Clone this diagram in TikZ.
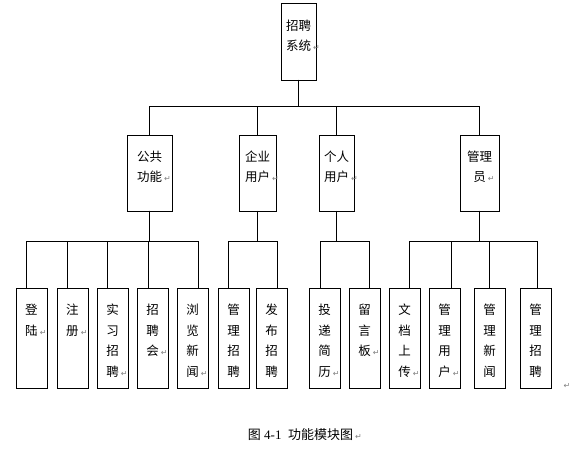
\documentclass[tikz,border=0pt]{standalone}
\usepackage{fontspec}
\setmainfont{Liberation Serif}
\newfontfamily\cjk{Noto Sans CJK SC}
\newfontfamily\markfont{DejaVu Sans}
\usetikzlibrary{positioning}

% box text: width, height, first baseline, lines
\newcommand{\modtext}[4]{\parbox[c][#2pt][t]{#1pt}{\centering\rule{0pt}{#3pt}#4}}
\newcommand{\pmark}{\rlap{\,\textcolor{gray}{\markfont\fontsize{8}{8}\selectfont ↵}}}

\begin{document}
\begin{tikzpicture}[x=1pt, y=-1pt, line width=0.9pt,
    box/.style={draw, inner sep=0pt, outer sep=0pt, font=\cjk\fontsize{12.5}{20}\selectfont},
    leaf/.style={draw, inner sep=0pt, outer sep=0pt, font=\cjk\fontsize{12.5}{20.5}\selectfont}]
  \useasboundingbox (0,0) rectangle (574,449);

  % Root
  \node[box] (sys) at (298.5,41.5) {\modtext{35}{77}{27.6}{招聘\\系统\pmark}};

  % Second level
  \node[box] (pub) at (149.5,173) {\modtext{45}{76}{26.6}{公共\\功能\pmark}};
  \node[box] (ent) at (257.5,173) {\modtext{37}{76}{26.6}{企业\\用户\pmark}};
  \node[box] (per) at (336.5,173) {\modtext{35}{76}{26.6}{个人\\用户\pmark}};
  \node[box] (adm) at (479.5,173) {\modtext{39}{76}{26.6}{管理\\员\pmark}};

  % Leaves
  \node[leaf] (login) at (31.5,338) {\modtext{31}{100}{26.6}{登\\陆\pmark}};
  \node[leaf] (register) [right=10pt of login] {\modtext{31}{100}{26.6}{注\\册\pmark}};
  \node[leaf] (intern) [right=9pt of register] {\modtext{31}{100}{26.6}{实\\习\\招\\聘\pmark}};
  \node[leaf] (fair) [right=9pt of intern] {\modtext{31}{100}{26.6}{招\\聘\\会\pmark}};
  \node[leaf] (news) [right=9pt of fair] {\modtext{31}{100}{26.6}{浏\\览\\新\\闻\pmark}};
  \node[leaf] (entjobs) [right=10pt of news] {\modtext{31}{100}{26.6}{管\\理\\招\\聘}};
  \node[leaf] (post) [right=7pt of entjobs] {\modtext{31}{100}{26.6}{发\\布\\招\\聘}};
  \node[leaf] (resume) [right=22pt of post] {\modtext{31}{100}{26.6}{投\\递\\简\\历\pmark}};
  \node[leaf] (board) [right=9pt of resume] {\modtext{31}{100}{26.6}{留\\言\\板\pmark}};
  \node[leaf] (upload) [right=9pt of board] {\modtext{31}{100}{26.6}{文\\档\\上\\传\pmark}};
  \node[leaf] (users) [right=9pt of upload] {\modtext{31}{100}{26.6}{管\\理\\用\\户\pmark}};
  \node[leaf] (admnews) [right=14pt of users] {\modtext{31}{100}{26.6}{管\\理\\新\\闻}};
  \node[leaf] (admjobs) [right=15pt of admnews] {\modtext{31}{100}{26.6}{管\\理\\招\\聘}};

  % Bus lines
  \coordinate (bartop) at (0,106);
  \coordinate (barleaf) at (0,241);

  \foreach \c in {pub,ent,per,adm}
    \draw (sys.south) -- (sys.south |- bartop) -| (\c.north);

  \foreach \p/\c/\dx in {pub/login/-5.5, pub/register/-5.5, pub/intern/-5.5,
      pub/fair/-4.5, pub/news/5.5, ent/entjobs/-5, ent/post/6,
      per/resume/-4, per/board/5, adm/upload/5, adm/users/6.5,
      adm/admnews/0, adm/admjobs/1.5}
    \draw (\p.south) -- (\p.south |- barleaf) -| ([xshift=\dx pt]\c.north);

  % Stray paragraph mark and caption
  \node[inner sep=0pt, text=gray, font=\markfont\fontsize{8}{8}\selectfont] (pend) at (567,386) {↵};
  \node[inner sep=0pt, font=\fontsize{13}{13}\selectfont] (caption) at (300.5,435)
    {{\cjk 图} 4-1\ \ {\cjk 功能模块图}\pmark};
\end{tikzpicture}
\end{document}
